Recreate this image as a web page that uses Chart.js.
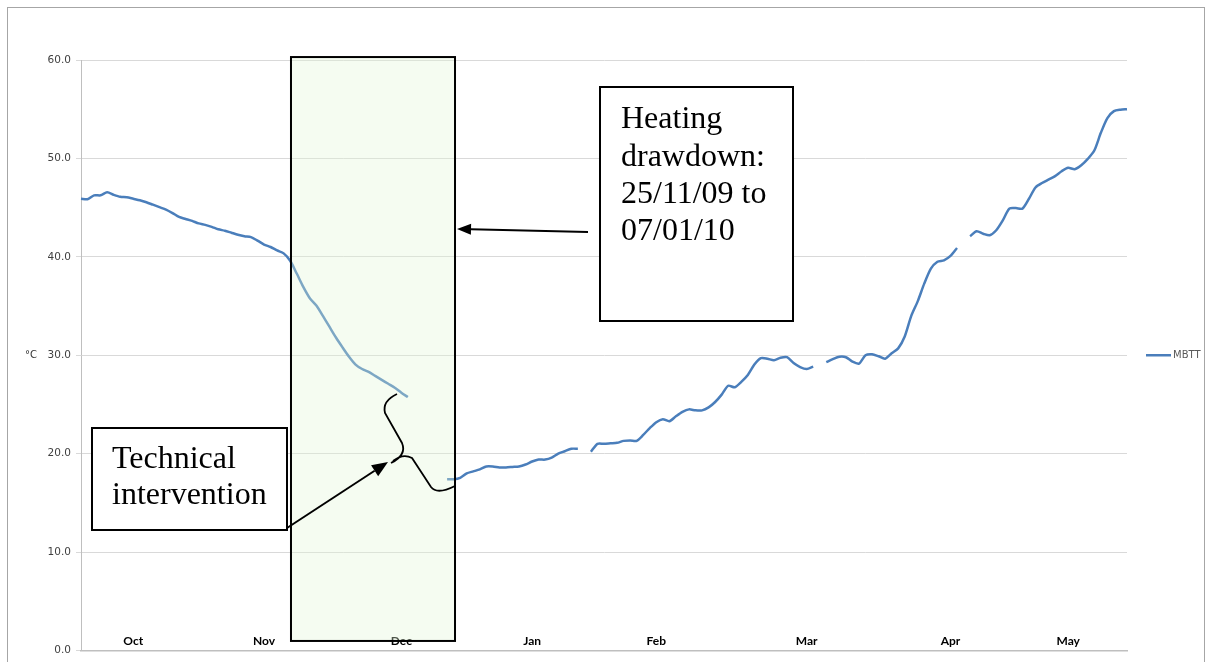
<!DOCTYPE html>
<html>
<head>
<meta charset="utf-8">
<script src="https://cdn.jsdelivr.net/npm/chart.js@4.4.1/dist/chart.umd.min.js"></script>
<style>
  html, body { margin: 0; padding: 0; background: #ffffff; }
  #wrap { width: 1212px; height: 662px; position: relative; }
</style>
</head>
<body>
<div id="wrap"><canvas id="c" width="1212" height="662"></canvas></div>
<script>
// ---- data ----
const seriesName = 'MBTT';
const monthNames = ['Oct', 'Nov', 'Dec', 'Jan', 'Feb', 'Mar', 'Apr', 'May'];
const monthIndex = [8, 28, 49, 69, 88, 111, 133, 151];
const yTicks = [0, 10, 20, 30, 40, 50, 60];
const mbtt = [
  45.9, 45.85, 46.25, 46.25, 46.55, 46.3, 46.1, 46.05, 45.9, 45.75,
  45.55, 45.3, 45.05, 44.8, 44.45, 44.05, 43.85, 43.65, 43.4, 43.25,
  43.05, 42.8, 42.65, 42.45, 42.25, 42.1, 42.0, 41.65, 41.25, 41.0,
  40.65, 40.35, 39.6, 38.3, 36.95, 35.8, 35.05, 34.0, 32.9, 31.8,
  30.8, 29.85, 29.05, 28.6, 28.3, 27.9, 27.5, 27.1, 26.7, 26.2,
  25.75, null, null, null, null, null, 17.4, 17.4, 17.55, 18.0,
  18.2, 18.4, 18.7, 18.7, 18.6, 18.6, 18.65, 18.7, 18.9, 19.2,
  19.4, 19.4, 19.6, 20.0, 20.25, 20.5, 20.5, null, 20.2, 21.0,
  21.0, 21.05, 21.1, 21.3, 21.35, 21.3, 21.9, 22.6, 23.2, 23.5,
  23.3, 23.8, 24.25, 24.5, 24.4, 24.4, 24.7, 25.25, 26.0, 26.9,
  26.75, 27.3, 28.0, 29.05, 29.7, 29.65, 29.5, 29.75, 29.8, 29.2,
  28.8, 28.6, 28.85, null, 29.3, 29.6, 29.85, 29.8, 29.35, 29.15,
  30.0, 30.1, 29.9, 29.65, 30.2, 30.7, 31.9, 34.0, 35.5, 37.3,
  38.8, 39.5, 39.65, 40.1, 40.9, null, 42.1, 42.6, 42.35, 42.2,
  42.7, 43.7, 44.9, 44.95, 44.9, 45.9, 47.05, 47.5, 47.85, 48.2,
  48.7, 49.05, 48.9, 49.3, 49.95, 50.8, 52.6, 54.1, 54.8, 54.95,
  55.0
];
// highlighted heating drawdown period (category index range) and value range
const drawdownRange = [32.12, 57.21];
const drawdownValues = [0.97, 60.3];

const categories = mbtt.map((_, i) => {
  const k = monthIndex.indexOf(i);
  return k >= 0 ? monthNames[k] : '';
});

const LINE = '#4a7ebb';

function arrow(ctx, x1, y1, x2, y2, len, half) {
  const a = Math.atan2(y2 - y1, x2 - x1);
  const bx = x2 - len * Math.cos(a), by = y2 - len * Math.sin(a);
  ctx.beginPath();
  ctx.moveTo(x1, y1);
  ctx.lineTo(bx, by);
  ctx.stroke();
  ctx.beginPath();
  ctx.moveTo(x2, y2);
  ctx.lineTo(bx + half * Math.sin(a), by - half * Math.cos(a));
  ctx.lineTo(bx - half * Math.sin(a), by + half * Math.cos(a));
  ctx.closePath();
  ctx.fill();
}

const decor = {
  id: 'decor',
  beforeDraw(chart) {
    const ctx = chart.ctx;
    ctx.save();
    ctx.fillStyle = '#ffffff';
    ctx.fillRect(0, 0, chart.width, chart.height);
    ctx.strokeStyle = '#a6a6a6';
    ctx.lineWidth = 1;
    ctx.strokeRect(7.5, 7.5, 1197, 680);
    ctx.restore();
  },
  afterDatasetsDraw(chart) {
    // month category labels, drawn inside the plot just above the axis
    const ctx = chart.ctx;
    const xs = chart.scales.x;
    const area = chart.chartArea;
    ctx.save();
    ctx.fillStyle = '#000000';
    ctx.font = 'bold 12px Lato';
    ctx.textAlign = 'center';
    ctx.textBaseline = 'middle';
    categories.forEach((lab, i) => {
      if (lab) ctx.fillText(lab, xs.getPixelForValue(i), area.bottom - 9.5);
    });
    ctx.restore();
  },
  afterDraw(chart) {
    const ctx = chart.ctx;
    const xs = chart.scales.x, ys = chart.scales.y;
    const area = chart.chartArea;
    const midY = (area.top + area.bottom) / 2;
    ctx.save();
    // y axis unit
    ctx.fillStyle = '#333333';
    ctx.font = '10px "DejaVu Sans"';
    ctx.textAlign = 'center';
    ctx.textBaseline = 'middle';
    ctx.fillText('°C', 31, midY);
    // legend
    ctx.strokeStyle = LINE;
    ctx.lineWidth = 2.5;
    ctx.beginPath();
    ctx.moveTo(1146, midY);
    ctx.lineTo(1171, midY);
    ctx.stroke();
    ctx.fillStyle = '#595959';
    ctx.textAlign = 'left';
    ctx.fillText(seriesName, 1173, midY);

    // heating drawdown highlight
    const gx1 = xs.getPixelForValue(drawdownRange[0]);
    const gx2 = xs.getPixelForValue(drawdownRange[1]);
    const gy1 = ys.getPixelForValue(drawdownValues[1]);
    const gy2 = ys.getPixelForValue(drawdownValues[0]);
    ctx.fillStyle = 'rgba(225,245,215,0.34)';
    ctx.fillRect(gx1, gy1, gx2 - gx1, gy2 - gy1);
    ctx.strokeStyle = '#000000';
    ctx.lineWidth = 2;
    ctx.strokeRect(gx1, gy1, gx2 - gx1, gy2 - gy1);

    // text boxes
    ctx.fillStyle = '#ffffff';
    ctx.fillRect(600, 87, 193, 234);
    ctx.strokeRect(600, 87, 193, 234);
    ctx.fillRect(92, 428, 195, 102);
    ctx.strokeRect(92, 428, 195, 102);
    ctx.fillStyle = '#000000';
    ctx.font = '32px "Liberation Serif"';
    ctx.textAlign = 'left';
    ctx.textBaseline = 'alphabetic';
    ctx.fillText('Heating', 621, 128);
    ctx.fillText('drawdown:', 621, 166);
    ctx.fillText('25/11/09 to', 621, 203);
    ctx.fillText('07/01/10', 621, 240);
    ctx.fillText('Technical', 112, 468);
    ctx.fillText('intervention', 112, 504);

    // arrows
    ctx.lineWidth = 2;
    ctx.strokeStyle = '#000';
    ctx.fillStyle = '#000';
    arrow(ctx, 588, 232, gx2 + 2, 229, 14, 5.5);
    arrow(ctx, 287, 528, 388, 462, 16, 6.5);

    // brace
    ctx.lineWidth = 1.8;
    ctx.beginPath();
    ctx.moveTo(397, 394);
    ctx.quadraticCurveTo(382, 401, 385, 413);
    ctx.lineTo(402, 443);
    ctx.quadraticCurveTo(407, 455, 391, 463);
    ctx.moveTo(393, 461);
    ctx.quadraticCurveTo(403, 453, 412, 458);
    ctx.lineTo(431, 487);
    ctx.quadraticCurveTo(437, 495, 455, 486);
    ctx.stroke();
    ctx.restore();
  }
};

new Chart(document.getElementById('c'), {
  type: 'line',
  data: {
    labels: categories,
    datasets: [{
      label: seriesName,
      data: mbtt,
      borderColor: LINE,
      backgroundColor: LINE,
      borderWidth: 2.5,
      pointRadius: 0,
      pointHoverRadius: 0,
      tension: 0.25,
      spanGaps: false,
      fill: false
    }]
  },
  options: {
    responsive: false,
    animation: false,
    events: [],
    layout: { padding: { left: 0, top: 60, right: 85, bottom: 0 } },
    plugins: { legend: { display: false }, tooltip: { enabled: false } },
    scales: {
      x: {
        type: 'category',
        offset: false,
        grid: { display: false, drawTicks: false },
        border: { display: true, color: '#bfbfbf', width: 1.5 },
        ticks: { display: false, autoSkip: false, maxRotation: 0 },
        afterFit(s) { s.height = 11.5; }
      },
      y: {
        min: 0,
        max: 60,
        afterBuildTicks(s) { s.ticks = yTicks.map(v => ({ value: v })); },
        grid: { color: '#d9d9d9', lineWidth: 1, tickLength: 5 },
        border: { display: true, color: '#bfbfbf', width: 1 },
        ticks: {
          padding: 5,
          color: '#404040',
          font: { family: 'DejaVu Sans', size: 10.5 },
          callback: v => Number(v).toFixed(1)
        },
        afterFit(s) { s.width = 81; }
      }
    }
  },
  plugins: [decor]
});
</script>
</body>
</html>
